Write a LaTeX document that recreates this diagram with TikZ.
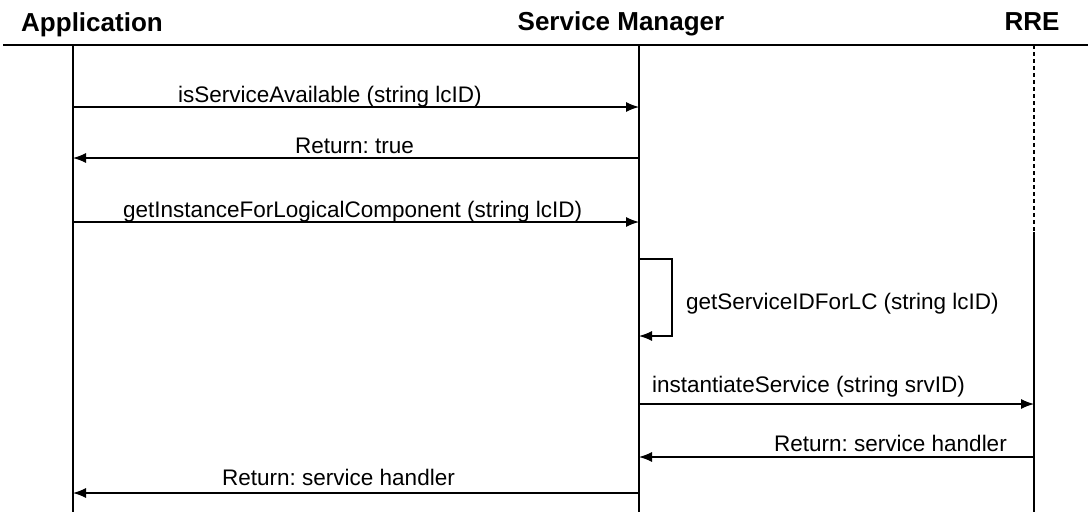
\documentclass[tikz,border=0pt]{standalone}
\usepackage{fontspec}
\setmainfont{Liberation Sans}
\usetikzlibrary{arrows.meta}
\frenchspacing
\begin{document}
\begin{tikzpicture}[x=1pt,y=-1pt,
  header/.style={font=\fontsize{26}{30}\selectfont\bfseries, anchor=base, inner sep=0pt},
  lbl/.style={font=\fontsize{22.5}{27}\selectfont, anchor=base west, inner sep=0pt},
  life/.style={line width=1.1pt},
  msg/.style={line width=1.2pt, -{Latex[length=13pt,width=10pt]}},
  self/.style={line width=1.2pt, -{Latex[length=13pt,width=10pt]}}]
\useasboundingbox (0,0) rectangle (1088,512);
% headers
\node[header] (happ) at (92,31) {Application};
\node[header] (hsm) at (621,30) {Service Manager};
\node[header] (hrre) at (1032,30) {RRE};
% header line
\coordinate (hl1) at (3,45);
\coordinate (hl2) at (1088,45);
\draw[line width=1.3pt] (hl1) -- (hl2);
% lifelines
\coordinate (appT) at (73,45);
\coordinate (appB) at (73,512);
\coordinate (smT) at (639,45);
\coordinate (smB) at (639,512);
\coordinate (rreT) at (1034,45);
\coordinate (rreM) at (1034,232);
\coordinate (rreB) at (1034,512);
\draw[life] (appT) -- (appB);
\draw[life] (smT) -- (smB);
\draw[life, dash pattern=on 4pt off 3pt] (rreT) -- (rreM);
\draw[life] (rreM) -- (rreB);
% message 1
\coordinate (a1) at (73,107);
\coordinate (s1) at (639,107);
\draw[msg] (a1) -- (s1);
\node[lbl] (l1) at (178,102) {isServiceAvailable (string lcID)};
% message 2
\coordinate (s2) at (639,158);
\coordinate (a2) at (73,158);
\draw[msg] (s2) -- (a2);
\node[lbl] (l2) at (295,153) {Return: true};
% message 3
\coordinate (a3) at (73,222);
\coordinate (s3) at (639,222);
\draw[msg] (a3) -- (s3);
\node[lbl] (l3) at (123,217) {getInstanceForLogicalComponent (string lcID)};
% self message
\coordinate (sl1) at (639,259);
\coordinate (sl2) at (672,259);
\coordinate (sl3) at (672,336);
\coordinate (sl4) at (639,336);
\draw[self] (sl1) -- (sl2) -- (sl3) -- (sl4);
\node[lbl] (l4) at (686,309) {getServiceIDForLC (string lcID)};
% message 5
\coordinate (s5) at (639,404);
\coordinate (r5) at (1034,404);
\draw[msg] (s5) -- (r5);
\node[lbl] (l5) at (652,392) {instantiateService (string srvID)};
% message 6
\coordinate (r6) at (1034,457);
\coordinate (s6) at (639,457);
\draw[msg] (r6) -- (s6);
\node[lbl, anchor=base east] (l6) at (1007,451) {Return: service handler};
% message 7
\coordinate (s7) at (639,493);
\coordinate (a7) at (73,493);
\draw[msg] (s7) -- (a7);
\node[lbl] (l7) at (222,485) {Return: service handler};
\end{tikzpicture}
\end{document}
